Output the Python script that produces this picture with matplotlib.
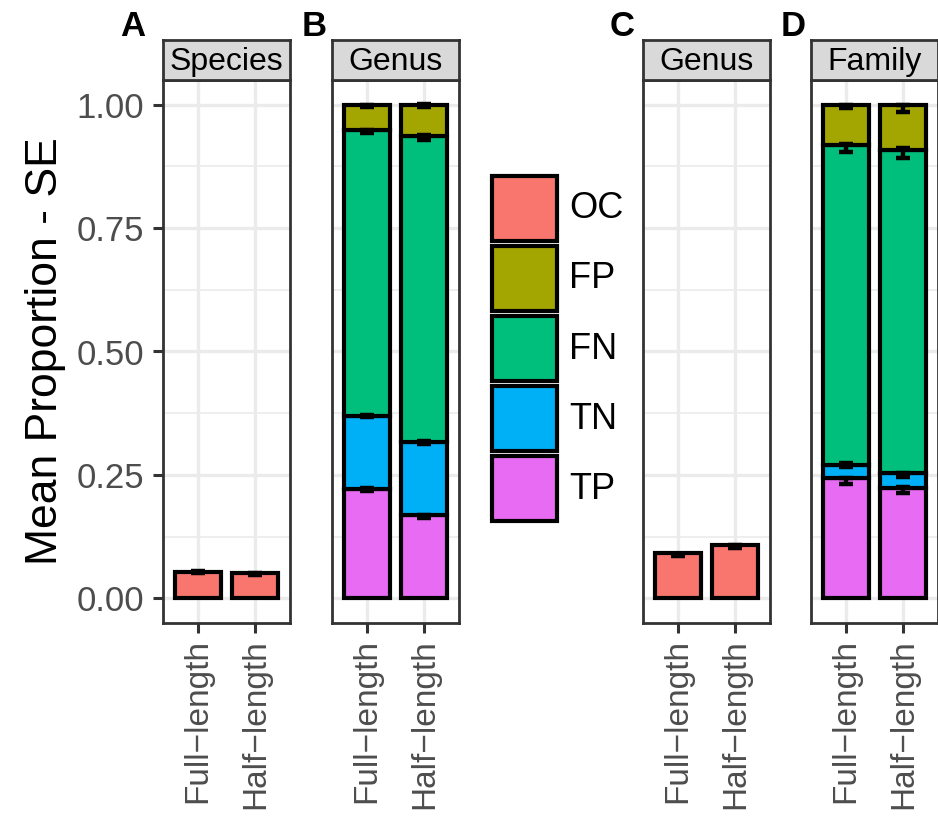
import matplotlib
matplotlib.use('Agg')
import matplotlib.pyplot as plt
import matplotlib.patches as mpatches
import numpy as np

plt.rcParams['font.family'] = ['Liberation Sans', 'DejaVu Sans']

lengths = ['Full\u2212length', 'Half\u2212length']
legend_classes = ['OC', 'FP', 'FN', 'TN', 'TP']
colours = {'OC': '#F8766D', 'FP': '#A3A500', 'FN': '#00BF7D',
           'TN': '#00B0F6', 'TP': '#E76BF3'}
stack_order = ['TP', 'TN', 'FN', 'FP']

# A: species level, only OC
species_oc = [0.054, 0.052]
species_oc_mid = [0.053, 0.050]
species_oc_se = [0.002, 0.002]

# B: genus level, stacked TP / TN / FN / FP
genus_tp = [0.221, 0.169]
genus_tn = [0.149, 0.147]
genus_fn = [0.579, 0.620]
genus_fp = [0.051, 0.064]
genus_mid = [[0.220, 0.166], [0.369, 0.315], [0.946, 0.933], [0.998, 0.998]]
genus_se = [[0.003, 0.003], [0.002, 0.003], [0.003, 0.005], [0.002, 0.003]]

# C: genus level, only OC
genus_oc = [0.091, 0.109]
genus_oc_mid = [0.088, 0.105]
genus_oc_se = [0.002, 0.003]

# D: family level, stacked
family_tp = [0.243, 0.223]
family_tn = [0.028, 0.030]
family_fn = [0.648, 0.656]
family_fp = [0.081, 0.091]
family_mid = [[0.238, 0.219], [0.270, 0.250], [0.913, 0.902], [0.996, 0.993]]
family_se = [[0.006, 0.006], [0.004, 0.004], [0.008, 0.010], [0.003, 0.007]]

W, H = 938, 830
fig = plt.figure(figsize=(W / 100, H / 100), dpi=100)

grey20 = '#333333'
grid_col = '#EBEBEB'
x = np.array([1, 2])


def px_axes(left, top, width, height):
    return fig.add_axes([left / W, 1 - (top + height) / H, width / W, height / H])


def panel(left, title, letter, letter_x, show_y=False):
    ax = px_axes(left, 80, 127, 543)
    ax.set_xlim(0.4, 2.6)
    ax.set_ylim(-0.05, 1.05)
    ax.set_yticks([0, 0.25, 0.5, 0.75, 1.0])
    ax.set_yticks([0.125, 0.375, 0.625, 0.875], minor=True)
    ax.set_xticks(x)
    ax.set_xticklabels(lengths, rotation=90, fontsize=24, color='#4D4D4D')
    ax.grid(True, which='major', color=grid_col, lw=2.4)
    ax.grid(True, which='minor', axis='y', color=grid_col, lw=1.2)
    ax.set_axisbelow(True)
    for s in ax.spines.values():
        s.set_color(grey20)
        s.set_linewidth(2.0)
    ax.tick_params(axis='x', length=7.5, width=2.2, color=grey20, pad=4)
    ax.tick_params(which='minor', length=0)
    if show_y:
        ax.set_yticklabels(['0.00', '0.25', '0.50', '0.75', '1.00'],
                           fontsize=25, color='#4D4D4D')
        ax.tick_params(axis='y', length=7.5, width=2.2, color=grey20, pad=6)
    else:
        ax.tick_params(axis='y', length=0, labelleft=False)
    # strip
    st = px_axes(left, 40, 127, 40)
    st.set_facecolor('#D9D9D9')
    st.set_xticks([])
    st.set_yticks([])
    for s in st.spines.values():
        s.set_color(grey20)
        s.set_linewidth(2.0)
    st.text(0.5, 0.45, title, ha='center', va='center', fontsize=23,
            transform=st.transAxes)
    fig.text(letter_x / W, 1 - 26 / H, letter, ha='center', va='center',
             fontsize=25, fontweight='bold')
    return ax


def errbars(ax, mid, se):
    ax.errorbar(x, mid, yerr=se, fmt='none', ecolor='black', elinewidth=3.2,
                capsize=5.2, capthick=3.2, zorder=4)


bar_kw = dict(width=0.8, edgecolor='black', linewidth=3.0, zorder=3)

# A
axA = panel(163, 'Species', 'A', 133, show_y=True)
axA.bar(x, species_oc, color=colours['OC'], **bar_kw)
errbars(axA, species_oc_mid, species_oc_se)
axA.set_ylabel('Mean Proportion - SE', fontsize=32, labelpad=8)

# B
axB = panel(332, 'Genus', 'B', 314)
bottom = np.zeros(2)
for cls, vals in zip(stack_order, [genus_tp, genus_tn, genus_fn, genus_fp]):
    axB.bar(x, vals, bottom=bottom, color=colours[cls], **bar_kw)
    bottom += np.array(vals)
for mid, se in zip(genus_mid, genus_se):
    errbars(axB, mid, se)

# C
axC = panel(643, 'Genus', 'C', 622)
axC.bar(x, genus_oc, color=colours['OC'], **bar_kw)
errbars(axC, genus_oc_mid, genus_oc_se)

# D
axD = panel(811, 'Family', 'D', 793)
bottom = np.zeros(2)
for cls, vals in zip(stack_order, [family_tp, family_tn, family_fn, family_fp]):
    axD.bar(x, vals, bottom=bottom, color=colours[cls], **bar_kw)
    bottom += np.array(vals)
for mid, se in zip(family_mid, family_se):
    errbars(axD, mid, se)

# legend
leg = px_axes(480, 165, 170, 370)
leg.set_xlim(480, 650)
leg.set_ylim(535, 165)
leg.axis('off')
for i, cls in enumerate(legend_classes):
    top = 176 + i * 70
    leg.add_patch(mpatches.Rectangle((492, top), 65, 65, facecolor=colours[cls],
                                     edgecolor='black', linewidth=3.0))
    leg.text(569, top + 33, cls, ha='left', va='center', fontsize=26)

fig.savefig('out.png', dpi=100)
